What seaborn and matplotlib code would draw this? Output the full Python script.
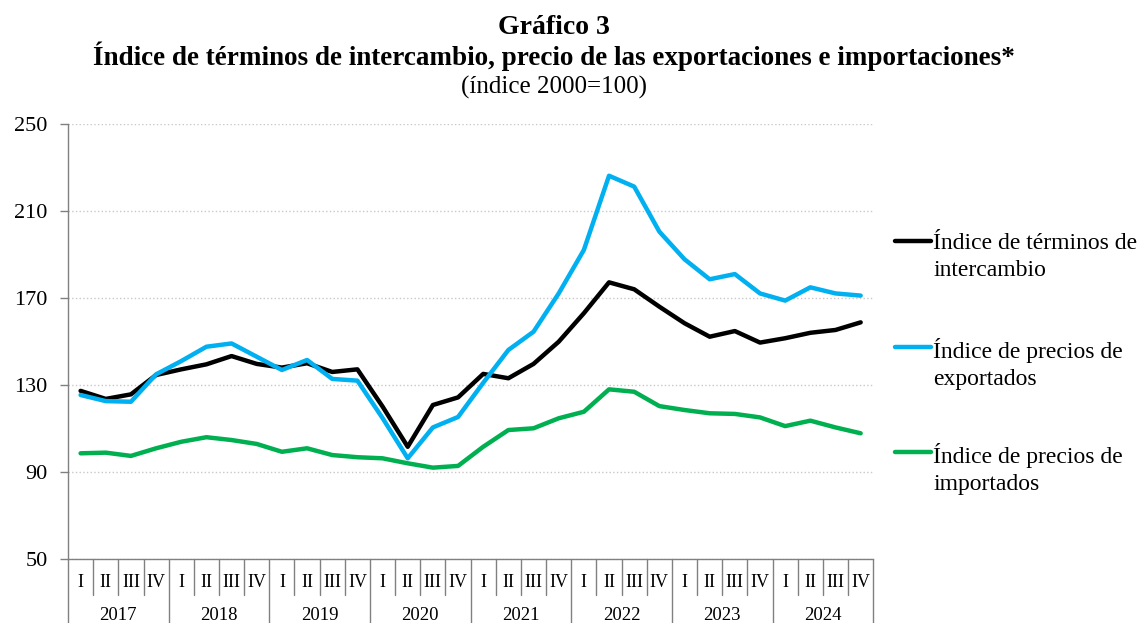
import pandas as pd
import matplotlib.pyplot as plt
import seaborn as sns
from matplotlib.lines import Line2D
from matplotlib.transforms import blended_transform_factory

anios = ['2017', '2018', '2019', '2020', '2021', '2022', '2023', '2024']
trimestres = ['I', 'II', 'III', 'IV']

terminos = [127.3, 123.6, 125.7, 134.6, 137.2, 139.5, 143.3, 139.7,
            138.0, 140.0, 136.0, 137.2, 120.1, 101.6, 120.8, 124.3,
            135.1, 133.1, 139.7, 149.9, 163.0, 177.2, 174.0, 166.0,
            158.4, 152.2, 154.8, 149.5, 151.5, 154.0, 155.3, 158.8]
exportados = [125.4, 122.6, 122.3, 134.9, 141.0, 147.6, 149.1, 143.0,
              136.9, 141.5, 132.8, 132.0, 114.8, 96.3, 110.5, 115.3,
              131.0, 146.1, 154.5, 172.1, 192.1, 226.2, 221.2, 200.5,
              187.8, 178.6, 181.0, 172.1, 168.8, 174.9, 172.1, 171.1]
importados = [98.6, 98.9, 97.4, 100.9, 103.9, 106.0, 104.7, 102.9,
              99.3, 100.9, 97.8, 96.8, 96.3, 94.0, 92.0, 92.8,
              101.6, 109.3, 110.1, 114.7, 117.7, 128.0, 126.9, 120.3,
              118.5, 117.0, 116.7, 115.1, 111.1, 113.6, 110.5, 107.8]

series = ['Índice de términos de\nintercambio',
          'Índice de precios de\nexportados',
          'Índice de precios de\nimportados']
colores = ['#000000', '#00B0F0', '#00B050']

n = len(terminos)
df = pd.DataFrame({
    'x': list(range(n)) * 3,
    'valor': terminos + exportados + importados,
    'serie': [series[0]] * n + [series[1]] * n + [series[2]] * n,
})

sns.set_style('white')
plt.rcParams['font.family'] = ['Liberation Serif', 'DejaVu Serif']
plt.rcParams['text.color'] = 'black'
plt.rcParams['xtick.labelcolor'] = 'black'
plt.rcParams['ytick.labelcolor'] = 'black'

fig = plt.figure(figsize=(11.43, 6.23), dpi=100)
ax = fig.add_axes([0.0595, 0.1027, 0.7045, 0.6983])

sns.lineplot(data=df, x='x', y='valor', hue='serie', palette=colores,
             linewidth=3.2, ax=ax, legend=False)

ax.set_xlim(-0.5, n - 0.5)
ax.set_ylim(50, 250)
ax.set_yticks([50, 90, 130, 170, 210, 250])
ax.tick_params(axis='y', labelsize=16, length=5.8, width=1, color='#808080',
               left=True, pad=9)
ax.yaxis.grid(True, linestyle=':', color='#c8c8c8', linewidth=1)
ax.set_xlabel('')
ax.set_ylabel('')
for lado in ['top', 'right']:
    ax.spines[lado].set_visible(False)
for lado in ['left', 'bottom']:
    ax.spines[lado].set_color('#808080')
    ax.spines[lado].set_linewidth(1)

# eje x en dos niveles
etiquetas_q = trimestres * len(anios)
ax.set_xticks(range(n))
ax.set_xticklabels(etiquetas_q, fontsize=13)
ax.tick_params(axis='x', length=0, pad=11)

trans = blended_transform_factory(ax.transData, ax.transAxes)
for i in range(n + 1):
    xb = i - 0.5
    bajo = -0.147 if i % 4 == 0 else -0.083
    ax.plot([xb, xb], [0, bajo], color='#808080', linewidth=1,
            transform=trans, clip_on=False)
for k, anio in enumerate(anios):
    ax.text(4 * k + 1.5, -0.13, anio, transform=trans, ha='center',
            va='center', fontsize=13.5)

# leyenda
for j, (s, c) in enumerate(zip(series, colores)):
    yf = 1 - (241.5 + 105 * j) / 623
    fig.add_artist(Line2D([895 / 1143, 931 / 1143], [yf, yf], color=c,
                          linewidth=3.2))
    fig.text(933 / 1143, yf + 0.014, s, fontsize=17, va='top', ha='left',
             linespacing=1.38)

fig.text(0.485, 1 - 27 / 623, 'Gráfico 3', ha='center', va='center',
         fontsize=20, fontweight='bold')
fig.text(0.485, 1 - 56 / 623,
         'Índice de términos de intercambio, precio de las exportaciones e importaciones*',
         ha='center', va='center', fontsize=19.5, fontweight='bold')
fig.text(0.485, 1 - 87 / 623, '(índice 2000=100)', ha='center',
         va='center', fontsize=18)

plt.savefig('out.png', dpi=100)
